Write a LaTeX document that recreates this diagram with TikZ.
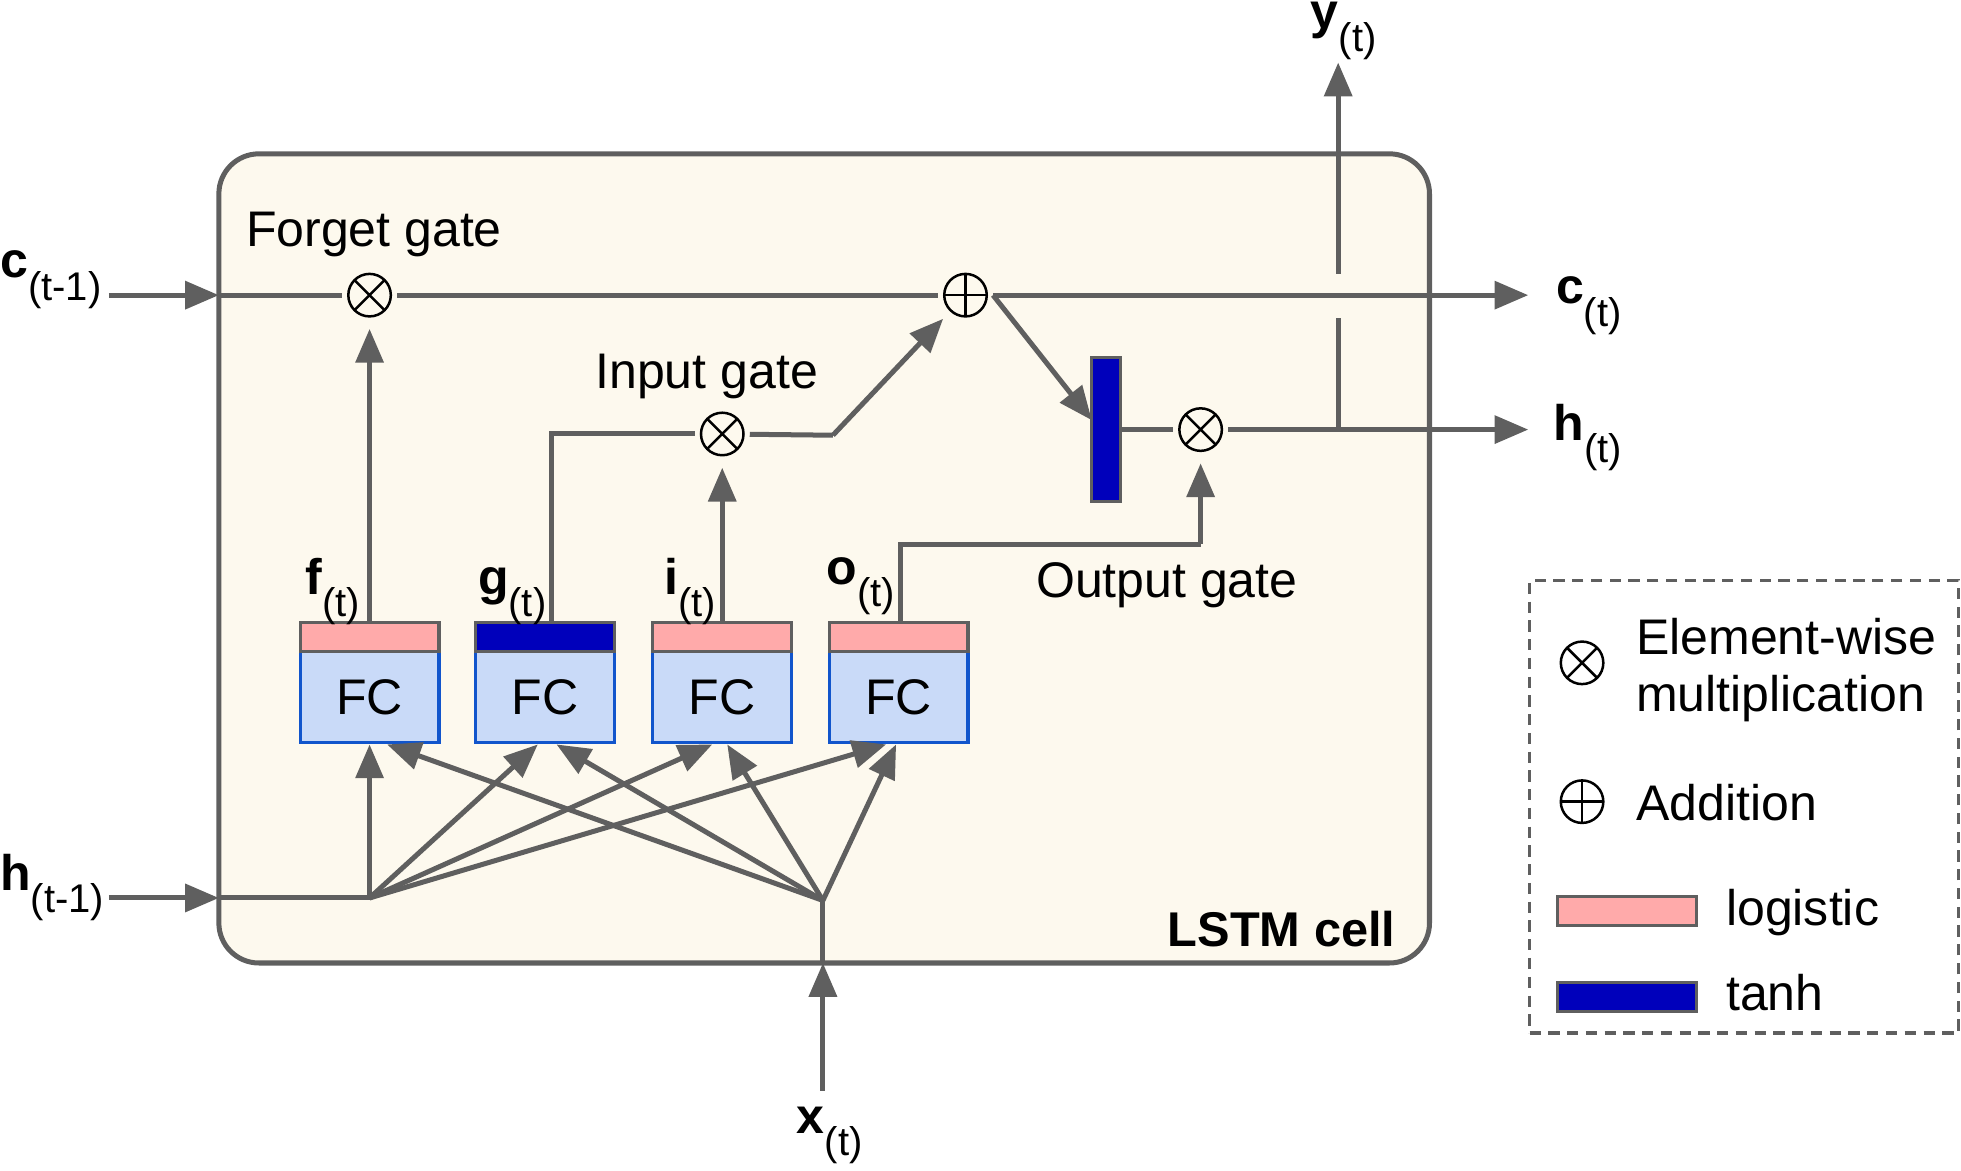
\documentclass[tikz,border=0pt]{standalone}
\usepackage{fontspec}
\setmainfont{Liberation Sans}
\usetikzlibrary{arrows.meta}
\definecolor{lc}{RGB}{95,95,95}
\definecolor{cream}{RGB}{253,249,238}
\definecolor{pinkc}{RGB}{255,170,170}
\definecolor{tanhc}{RGB}{0,0,187}
\definecolor{fcblue}{RGB}{201,218,248}
\definecolor{fcborder}{RGB}{17,85,204}
\newcommand\lbl[2]{{\fontsize{40}{48}\selectfont\bfseries #1}\raisebox{-18pt}{\fontsize{32}{36}\selectfont #2}}
\begin{document}
\begin{tikzpicture}[x=1pt,y=-1pt,
  conn/.style={draw=lc, line width=4pt},
  arr/.style={conn, -{Triangle[length=27pt,width=22pt]}},
  txt/.style={font=\fontsize{40}{48}\selectfont, inner sep=0pt},
  lab/.style={inner sep=0pt, anchor=base west},
  mult/.style={circle, draw=black, line width=2pt, minimum size=34pt, inner sep=0pt, outer sep=5pt,
    path picture={\draw[black, line width=2pt] (path picture bounding box.north west) -- (path picture bounding box.south east)
      (path picture bounding box.north east) -- (path picture bounding box.south west);}},
  plus/.style={circle, draw=black, line width=2pt, minimum size=34pt, inner sep=0pt, outer sep=5pt,
    path picture={\draw[black, line width=2pt] (path picture bounding box.north) -- (path picture bounding box.south)
      (path picture bounding box.east) -- (path picture bounding box.west);}},
  fcbody/.style={draw=fcborder, fill=fcblue, line width=2.5pt, minimum width=111pt, minimum height=73pt, inner sep=0pt,
    font=\fontsize{40}{48}\selectfont},
  logbar/.style={draw=lc, fill=pinkc, line width=2.5pt, minimum width=111pt, minimum height=23pt, inner sep=0pt},
  tanhbarh/.style={draw=lc, fill=tanhc, line width=2.5pt, minimum width=111pt, minimum height=23pt, inner sep=0pt},
]
\useasboundingbox (0,0) rectangle (1568,936);

% cell
\node[draw=lc, fill=cream, line width=4pt, rounded corners=32pt, minimum width=968pt, minimum height=647pt, inner sep=0pt] (cell) at (659,446.5) {};
\node[lab, font=\fontsize{39}{48}\selectfont\bfseries, anchor=base east] (cellname) at (1116,757) {LSTM cell};

% FC blocks
\node[fcbody] (fcf) at (295.5,557.5) {\raisebox{-3pt}{FC}};
\node[fcbody] (fcg) at (436,557.5) {\raisebox{-3pt}{FC}};
\node[fcbody] (fci) at (577.5,557.5) {\raisebox{-3pt}{FC}};
\node[fcbody] (fco) at (718.5,557.5) {\raisebox{-3pt}{FC}};
\node[logbar] (sf) at (295.5,509.5) {};
\node[tanhbarh] (sg) at (436,509.5) {};
\node[logbar] (si) at (577.5,509.5) {};
\node[logbar] (so) at (718.5,509.5) {};

% operators
\node[mult] (fg) at (295.5,236) {};
\node[plus] (add) at (772,236) {};
\node[mult] (ig) at (577.5,347) {};
\node[mult] (og) at (960,343.5) {};
\node[draw=lc, fill=tanhc, line width=2.5pt, minimum width=23pt, minimum height=115pt, inner sep=0pt] (tb) at (884.5,343.5) {};

% texts
\node[txt, anchor=base] (tforget) at (299,197) {Forget gate};
\node[txt, anchor=base] (tinput) at (565,311) {Input gate};
\node[txt, anchor=base] (toutput) at (933,478) {Output gate};

% labels
\node[lab] (lcin) at (0,222) {\lbl{c}{(t-1)}};
\node[lab] (lcout) at (1244,243) {\lbl{c}{(t)}};
\node[lab] (lhout) at (1242,352) {\lbl{h}{(t)}};
\node[lab] (lhin) at (0,712) {\lbl{h}{(t-1)}};
\node[lab] (lyout) at (1048,23) {\lbl{y}{(t)}};
\node[lab] (lxin) at (637,906) {\lbl{x}{(t)}};
\node[lab] (lf) at (244,475) {\lbl{f}{(t)}};
\node[lab] (lg) at (382,475) {\lbl{g}{(t)}};
\node[lab] (li) at (531,475) {\lbl{i}{(t)}};
\node[lab] (lo) at (661,467) {\lbl{o}{(t)}};

% coordinates
\coordinate (cin) at (87,236);
\coordinate (cinend) at (175,236);
\coordinate (cout) at (1222,236);
\coordinate (hout) at (1222,343.5);
\coordinate (hin) at (87,718);
\coordinate (hinend) at (175,718);
\coordinate (hj) at (295.5,718);
\coordinate (xin) at (658,872);
\coordinate (xinend) at (658,770);
\coordinate (xj) at (658,720);
\coordinate (bend1) at (666,348);
\coordinate (obend) at (960,435);
\coordinate (yj) at (1070,343.5);
\coordinate (ygap1) at (1070,254);
\coordinate (ygap2) at (1070,219);
\coordinate (yout) at (1070,50);
\coordinate (tbin) at (873,336);

% cell state line
\draw[arr] (cin) -- (cinend);
\draw[conn] (cinend) -- (fg);
\draw[conn] (fg) -- (add);
\draw[arr] (add.east) -- (cout);

% forget gate
\draw[arr, shorten >=5pt] (sf.north) -- (fg);
% g and input gate
\draw[conn] ([xshift=5pt]sg.north) |- (ig);
\draw[arr, shorten >=5pt] (si.north) -- (ig);
\draw[conn] (ig) -- (bend1);
\draw[arr, shorten >=4pt] (bend1) -- (add);
% to tanh
\draw[arr] (add.east) -- (tbin);
\draw[conn] (tb.east) -- (og);
\draw[arr] (og) -- (hout);
% output gate
\draw[conn] ([xshift=1.5pt]so.north) |- (obend);
\draw[arr, shorten >=5pt] (obend) -- (og);
% y output
\draw[conn] (yj) -- (ygap1);
\draw[arr] (ygap2) -- (yout);

% h input
\draw[arr] (hin) -- (hinend);
\draw[conn] (hinend) -- (hj);
\draw[arr] (hj) -- (fcf.south);
\draw[arr] (hj) -- ([xshift=-6pt]fcg.south);
\draw[arr] (hj) -- ([xshift=-8pt]fci.south);
\draw[arr] (hj) -- ([xshift=-10pt]fco.south);
% x input
\draw[arr] (xin) -- (xinend);
\draw[conn] (xinend) -- (xj);
\draw[arr] (xj) -- ([xshift=14pt]fcf.south);
\draw[arr] (xj) -- ([xshift=9pt]fcg.south);
\draw[arr] (xj) -- ([xshift=4pt]fci.south);
\draw[arr] (xj) -- ([xshift=-2pt]fco.south);

% legend
\node[draw=lc, dash pattern=on 9pt off 6pt, line width=2.5pt, minimum width=343pt, minimum height=362pt, inner sep=0pt] (legend) at (1394.5,645) {};
\node[mult] (lmult) at (1265,530) {};
\node[plus] (ladd) at (1265,641) {};
\node[lab, font=\fontsize{40}{48}\selectfont] (tew) at (1308,523) {Element-wise};
\node[lab, font=\fontsize{40}{48}\selectfont] (tmul) at (1308,569) {multiplication};
\node[lab, font=\fontsize{40}{48}\selectfont] (tadd) at (1308,656) {Addition};
\node[logbar] (llog) at (1301,728.5) {};
\node[tanhbarh] (ltanh) at (1301,797) {};
\node[lab, font=\fontsize{40}{48}\selectfont] (tlog) at (1380,740) {logistic};
\node[lab, font=\fontsize{40}{48}\selectfont] (ttanh) at (1380,808) {tanh};
\end{tikzpicture}
\end{document}
